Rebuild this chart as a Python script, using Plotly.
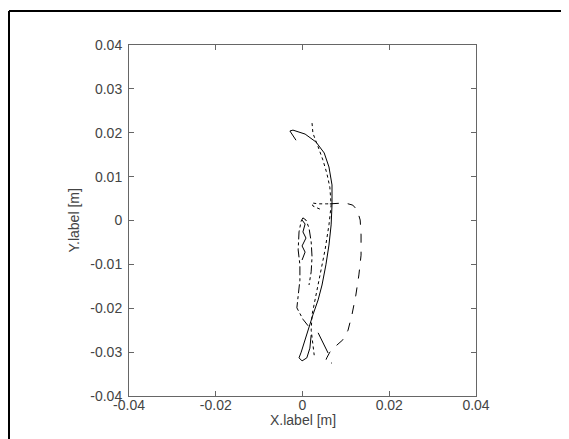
import plotly.graph_objects as go

# ---- data (metres) ----
solid_x = [-0.0015, -0.0029, -0.0022, 0.0006, 0.0031, 0.0050, 0.0061, 0.0068, 0.0068, 0.0066,
           0.0061, 0.0054, 0.0045, 0.0036, 0.0024, 0.0015, 0.0006, -0.0003, -0.0008, -0.0001,
           0.0010, 0.0017, 0.0020]
solid_y = [0.0183, 0.0204, 0.0206, 0.0197, 0.0179, 0.0154, 0.0122, 0.0081, 0.0035, -0.0010,
           -0.0056, -0.0101, -0.0147, -0.0181, -0.0215, -0.0245, -0.0272, -0.0300, -0.0313, -0.0320,
           -0.0313, -0.0291, -0.0261]

dot_x = [0.0022, 0.0024, 0.0036, 0.0047, 0.0056, 0.0063, 0.0066, 0.0061, 0.0052, 0.0043,
         0.0031, 0.0022, 0.0020, 0.0024, 0.0027]
dot_y = [0.0222, 0.0199, 0.0168, 0.0138, 0.0108, 0.0076, 0.0035, -0.0010, -0.0067, -0.0113,
         -0.0170, -0.0215, -0.0250, -0.0284, -0.0307]

dash_x = [0.0063, 0.0098, 0.0116, 0.0126, 0.0133, 0.0135, 0.0135, 0.0130, 0.0123, 0.0114,
          0.0105, 0.0093, 0.0077, 0.0063, 0.0056, 0.0052, 0.0068]
dash_y = [0.0038, 0.0040, 0.0035, 0.0024, 0.0001, -0.0033, -0.0079, -0.0124, -0.0170, -0.0215,
          -0.0250, -0.0272, -0.0286, -0.0300, -0.0313, -0.0323, -0.0325]

dashdot_x = [0.0013, 0.0001, -0.0013, -0.0010, -0.0006, -0.0006, -0.0010, -0.0008, -0.0003, 0.0001,
             0.0008, 0.0015, 0.0020, 0.0022, 0.0020, 0.0015]
dashdot_y = [-0.0240, -0.0225, -0.0199, -0.0165, -0.0136, -0.0101, -0.0067, -0.0026, -0.0001, 0.0006,
             0.0001, -0.0017, -0.0049, -0.0083, -0.0117, -0.0147]

inner_x = [-0.0001, 0.0006, 0.0001, 0.0008, -0.0001, 0.0006, -0.0001]
inner_y = [0.0001, -0.0008, -0.0026, -0.0040, -0.0058, -0.0072, -0.0090]

hook_x = [0.0040, 0.0024, 0.0022, 0.0036, 0.0056, 0.0066]
hook_y = [0.0026, 0.0033, 0.0040, 0.0038, 0.0038, 0.0038]

tail_x = [0.0036, 0.0050, 0.0059]
tail_y = [-0.0256, -0.0284, -0.0302]

x_ticks = [-0.04, -0.02, 0, 0.02, 0.04]
x_ticktext = ["-0.04", "-0.02", "0", "0.02", "0.04"]
y_ticks = [-0.04, -0.03, -0.02, -0.01, 0, 0.01, 0.02, 0.03, 0.04]
y_ticktext = ["-0.04", "-0.03", "-0.02", "-0.01", "0", "0.01", "0.02", "0.03", "0.04"]

fig = go.Figure()
lw = 1
def add(x, y, dash):
    fig.add_trace(go.Scatter(x=x, y=y, mode="lines",
                             line=dict(color="black", width=lw, dash=dash),
                             showlegend=False, hoverinfo="skip"))

add(solid_x, solid_y, "solid")
add(dot_x, dot_y, "dot")
add(dash_x, dash_y, "dash")
add(dashdot_x, dashdot_y, "dashdot")
add(inner_x, inner_y, "solid")
add(hook_x, hook_y, "dot")
add(tail_x, tail_y, "solid")

axcol = "#666666"
txtcol = "#444444"
fnt = dict(family="Liberation Sans, Arial, sans-serif", size=14, color=txtcol)

# page body has an 8px margin; plot area in page pixels: x 129..476, y 45..396
L, T, PW, PH = 121, 37, 347, 351
fig.update_layout(
    width=569, height=439,
    margin=dict(l=L, r=569 - L - PW, t=T, b=439 - T - PH),
    paper_bgcolor="white", plot_bgcolor="white",
    font=fnt,
    xaxis=dict(range=[-0.04, 0.04], tickvals=x_ticks, ticktext=x_ticktext,
               showgrid=False, zeroline=False, showline=True, linecolor=axcol, linewidth=1,
               mirror="ticks", ticks="inside", ticklen=5, tickcolor=axcol,
               ticklabelstandoff=-4, tickfont=fnt),
    yaxis=dict(range=[-0.04, 0.04], tickvals=y_ticks, ticktext=y_ticktext,
               showgrid=False, zeroline=False, showline=True, linecolor=axcol, linewidth=1,
               mirror="ticks", ticks="inside", ticklen=5, tickcolor=axcol,
               ticklabelstandoff=3, tickfont=fnt),
)

# axis titles
fig.add_annotation(text="X.label [m]", xref="paper", yref="paper", x=0.5,
                   y=(T + PH - (420 - 8)) / PH, xanchor="center", yanchor="middle",
                   showarrow=False, font=fnt)
fig.add_annotation(text="Y.label [m]", xref="paper", yref="paper",
                   x=((73 - 8) - L) / PW, y=0.5, xanchor="center", yanchor="middle",
                   textangle=-90, showarrow=False, font=fnt)

# figure frame (top and left edges visible)
fx = (1 - L) / PW
fy = (T + PH - 3) / PH
fig.add_shape(type="line", xref="paper", yref="paper",
              x0=fx, x1=(575 - L) / PW, y0=fy, y1=fy,
              line=dict(color="black", width=2))
fig.add_shape(type="line", xref="paper", yref="paper",
              x0=fx, x1=fx, y0=fy, y1=(T + PH - 445) / PH,
              line=dict(color="black", width=2))

fig.write_html("out.html")
